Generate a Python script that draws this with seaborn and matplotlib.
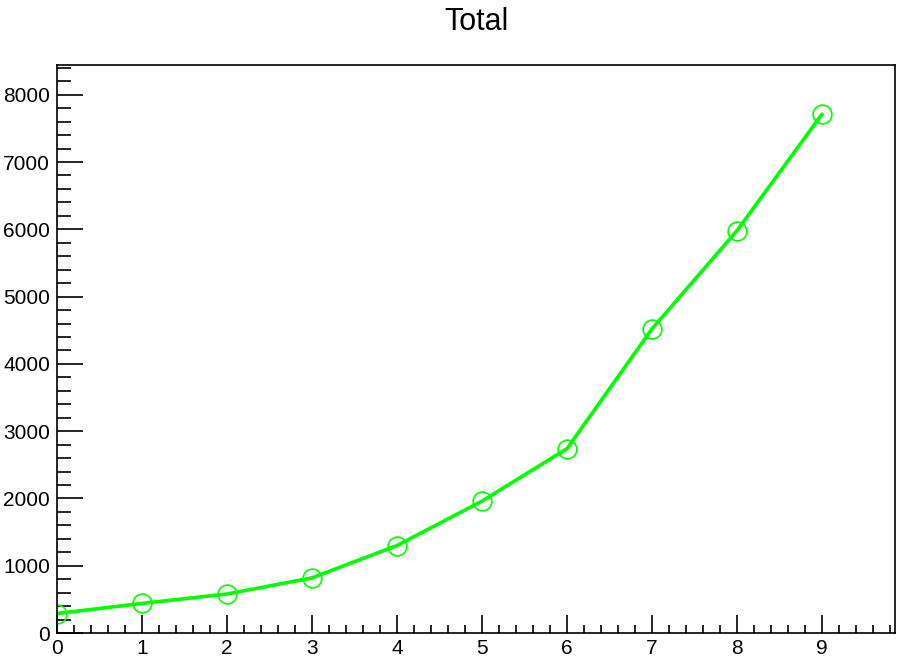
import matplotlib
matplotlib.use('Agg')
import matplotlib.pyplot as plt
from matplotlib.ticker import MultipleLocator
import pandas as pd
import seaborn as sns

# values
x_vals = [0, 1, 2, 3, 4, 5, 6, 7, 8, 9]
totals = [290, 440, 580, 820, 1300, 1960, 2740, 4520, 5980, 7710]
title = 'Total'

df = pd.DataFrame({'x': x_vals, 'total': totals})

sns.set_style('ticks')
plt.rcParams['font.family'] = ['Liberation Sans', 'DejaVu Sans']

fig = plt.figure(figsize=(9.12, 6.71), dpi=100)
ax = fig.add_axes([0.0625, 0.0566, 0.9189, 0.8465])

sns.lineplot(data=df, x='x', y='total', ax=ax, color='#00ff00', lw=2.6,
             marker='o', markersize=13.5, markerfacecolor='none',
             markeredgecolor='#00ff00', markeredgewidth=1.2)

ax.set_xlim(0, 9.86)
ax.set_ylim(0, 8442)
ax.xaxis.set_major_locator(MultipleLocator(1))
ax.xaxis.set_minor_locator(MultipleLocator(0.2))
ax.yaxis.set_major_locator(MultipleLocator(1000))
ax.yaxis.set_minor_locator(MultipleLocator(200))

# ROOT-like inward ticks on left and bottom only
ax.tick_params(axis='both', which='both', direction='in', top=False, right=False,
               color='black', width=1.2, labelsize=15, labelcolor='black')
ax.tick_params(axis='y', which='major', length=19, pad=5)
ax.tick_params(axis='y', which='minor', length=10)
ax.tick_params(axis='x', which='major', length=13, pad=4)
ax.tick_params(axis='x', which='minor', length=6)
for s in ax.spines.values():
    s.set_color('black')
    s.set_linewidth(1.2)

ax.set_xlabel('')
ax.set_ylabel('')
fig.text(0.523, 0.99, title, ha='center', va='top', fontsize=22, color='black')

fig.savefig('out.png', dpi=100)
